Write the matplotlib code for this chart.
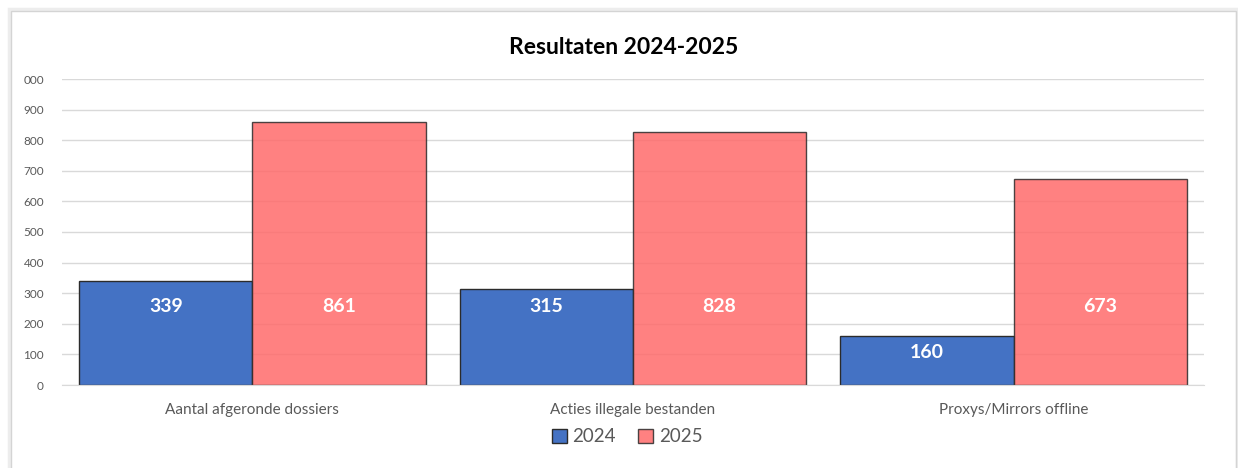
import matplotlib
matplotlib.use("Agg")
import matplotlib.pyplot as plt
from matplotlib.patches import Rectangle, Patch
import numpy as np

categories = ["Aantal afgeronde dossiers", "Acties illegale bestanden", "Proxys/Mirrors offline"]
series_names = ["2024", "2025"]
values_2024 = [339, 315, 160]
values_2025 = [861, 828, 673]
y_ticks = [0, 100, 200, 300, 400, 500, 600, 700, 800, 900, 1000]
y_tick_labels = ["0", "100", "200", "300", "400", "500", "600", "700", "800", "900", "000"]
title = "Resultaten 2024-2025"

plt.rcParams['font.family'] = ['Lato', 'DejaVu Sans']

fig = plt.figure(figsize=(12.38, 4.68), dpi=100)
fig.patch.set_facecolor("white")

# chart frame with soft shadow
fig.patches.append(Rectangle((9/1238, -0.02), 1228/1238, 1 - 9/468 + 0.02, transform=fig.transFigure,
                             facecolor="none", edgecolor="#e2e2e2", lw=2.5, alpha=0.6, zorder=0))
fig.patches.append(Rectangle((10.5/1238, -0.02), 1225/1238, 1 - 10.5/468 + 0.02, transform=fig.transFigure,
                             facecolor="none", edgecolor="#d4d4d4", lw=1, zorder=0))

ax = fig.add_axes([62/1238, 83/468, 1142/1238, 306/468])
ax.set_zorder(2)
ax.patch.set_alpha(0)
x = np.arange(len(categories))
w = 0.455
blue = "#4472C4"
red = "#FF6B6B"
ax.bar(x - w/2, values_2024, w, color=blue, edgecolor="#2b2b2b", lw=1, zorder=2)
ax.bar(x + w/2, values_2025, w, color=red, alpha=0.85, edgecolor="#2b2b2b", lw=1, zorder=2)

def label_y(v):
    return min(v - 55, 258)

for xi, v in zip(x - w/2, values_2024):
    ax.text(xi, label_y(v), str(v), ha="center", va="center", color="white",
            fontsize=14, fontweight="bold", zorder=3)
for xi, v in zip(x + w/2, values_2025):
    ax.text(xi, label_y(v), str(v), ha="center", va="center", color="white",
            fontsize=14, fontweight="bold", zorder=3)

ax.set_xlim(-0.5, len(categories) - 0.5)
ax.set_ylim(0, 1000)
ax.set_yticks(y_ticks)
ax.set_yticklabels(y_tick_labels, color="#595959", fontsize=8.5)
ax.set_xticks(x)
ax.set_xticklabels(categories, color="#595959", fontsize=11)
ax.tick_params(axis="y", length=0, pad=13)
ax.tick_params(axis="x", length=0, pad=13)
ax.yaxis.grid(True, color="#d9d9d9", lw=1, zorder=0)
ax.set_axisbelow(True)
for s in ["top", "right", "left"]:
    ax.spines[s].set_visible(False)
ax.spines["bottom"].set_color("#d9d9d9")

fig.text(624/1238, 1 - 48/468, title, ha="center", va="center", fontsize=16.5,
         fontweight="bold", color="black")

handles = [Patch(facecolor=blue, edgecolor="#2b2b2b", label=series_names[0]),
           Patch(facecolor=red, alpha=0.85, edgecolor="#2b2b2b", label=series_names[1])]
leg = fig.legend(handles=handles, loc="center", bbox_to_anchor=(627/1238, 1 - 437/468),
                 ncol=2, frameon=False, fontsize=13.5, handlelength=0.8, handleheight=0.8,
                 handletextpad=0.3, columnspacing=1.2)
for t in leg.get_texts():
    t.set_color("#595959")

fig.savefig("out.png", dpi=100)
